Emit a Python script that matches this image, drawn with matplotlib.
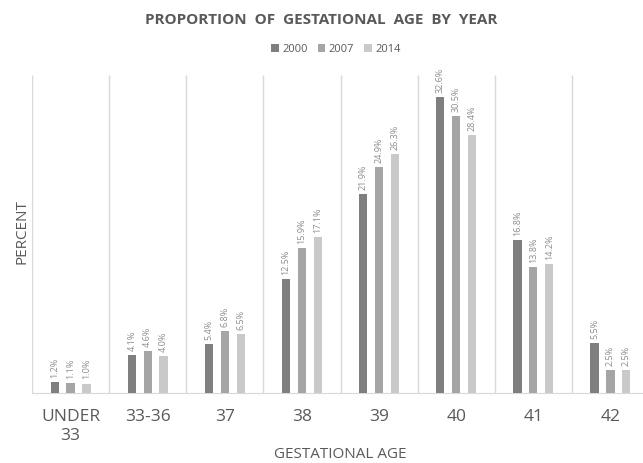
import matplotlib.pyplot as plt
import numpy as np

categories = ["UNDER\n33", "33-36", "37", "38", "39", "40", "41", "42"]
years = ["2000", "2007", "2014"]
values_2000 = [1.2, 4.1, 5.4, 12.5, 21.9, 32.6, 16.8, 5.5]
values_2007 = [1.1, 4.6, 6.8, 15.9, 24.9, 30.5, 13.8, 2.5]
values_2014 = [1.0, 4.0, 6.5, 17.1, 26.3, 28.4, 14.2, 2.5]
colors = ["#7f7f7f", "#a5a5a5", "#c9c9c9"]

plt.rcParams['font.family'] = ['Open Sans', 'DejaVu Sans']

fig = plt.figure(figsize=(6.43, 4.63), dpi=100)
ax = fig.add_axes([32 / 643, (463 - 392.7) / 463, 617 / 643, (392.7 - 75) / 463])

x = np.arange(len(categories))
offset = 0.206
width = 0.107
series = [values_2000, values_2007, values_2014]
for i, (vals, yr, c) in enumerate(zip(series, years, colors)):
    xs = x + (i - 1) * offset
    ax.bar(xs, vals, width, color=c, label=yr, zorder=3)
    for xi, v in zip(xs, vals):
        ax.annotate(f"{v:.1f}%", (xi, v), xytext=(0, 3), textcoords='offset points',
                    rotation=90, ha='center', va='bottom', fontsize=6.5,
                    color='#8c8c8c', annotation_clip=False)

# category separators
ax.vlines(np.arange(len(categories) + 1) - 0.5, 0, 35, color='#d9d9d9', lw=1, zorder=1)

ax.set_xlim(-0.5, len(categories) - 0.5)
ax.set_ylim(0, 35)
for s in ['top', 'right', 'left']:
    ax.spines[s].set_visible(False)
ax.spines['bottom'].set_color('#d9d9d9')
ax.set_yticks([])
ax.set_xticks(x)
ax.set_xticklabels(categories, fontsize=12.5, color='#595959', linespacing=1.2)
ax.tick_params(axis='x', length=0, pad=12)

fig.text(340 / 643, 1 - 454 / 463, "GESTATIONAL AGE", fontsize=11, color='#595959',
         ha='center', va='center')
fig.text(22 / 643, 1 - 232 / 463, "PERCENT", rotation=90, fontsize=11, color='#595959',
         ha='center', va='center')

fig.text(321 / 643, 1 - 20 / 463, "PROPORTION  OF  GESTATIONAL  AGE  BY  YEAR",
         fontsize=11, fontweight='bold', color='#595959', ha='center', va='center')

fig.legend(loc='center', bbox_to_anchor=(336 / 643, 1 - 49 / 463), ncol=3, frameon=False,
           fontsize=8, handlelength=0.7, handleheight=0.7, handletextpad=0.3,
           columnspacing=0.9, labelcolor='#595959')

fig.savefig("out.png", dpi=100)
